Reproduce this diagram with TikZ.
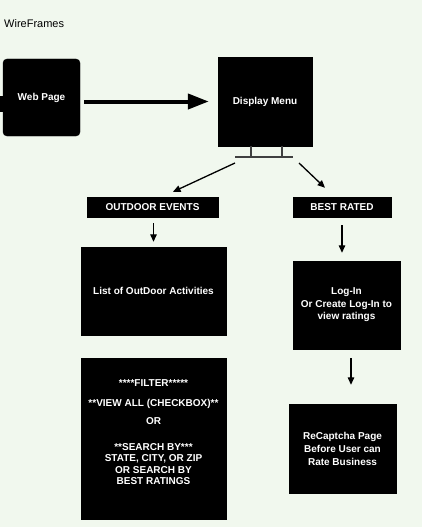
\documentclass[tikz,border=0pt]{standalone}
\usepackage{fontspec}
\setmainfont{Liberation Sans}
\usetikzlibrary{arrows.meta,calc}
\definecolor{bg}{RGB}{241,248,238}
\begin{document}
\begin{tikzpicture}[x=1pt,y=-1pt,
  box/.style={fill=black, draw=black, text=white, font=\bfseries\fontsize{10}{12.5}\selectfont, align=center, inner sep=0pt},
  arr/.style={line width=1.3pt, -{Triangle[length=7.5pt,width=6.5pt]}},
  bigarr/.style={line width=4pt, -{Triangle[length=21pt,width=15pt]}},
  standline/.style={line width=1.1pt, draw=black!75}]
\fill[bg] (0,0) rectangle (422,527);
\useasboundingbox (0,0) rectangle (422,527);
\node[anchor=base west, inner sep=0pt, font=\fontsize{11}{13}\selectfont] (title) at (4,28) {WireFrames};
% web page
\fill (0,96) rectangle (4,112);
\node[box, rounded corners=4pt, minimum width=77pt, minimum height=77pt] (web) at (41.5,97.5) {Web Page};
\node[box, minimum width=94pt, minimum height=89pt] (menu) at (265,101.5) {Display Menu};
\draw[bigarr, shorten <=4pt, shorten >=9pt] (web.east |- menu.west) -- (menu.west);
% stand
\draw[standline] (251,146) -- (251,157) (282,146) -- (282,157) (235,157) -- (293,157);
\coordinate (sl) at (235,163);
\coordinate (sr) at (299,163);
% level 2
\node[box, minimum width=131pt, minimum height=20pt] (outdoor) at (152.5,207) {OUTDOOR EVENTS};
\node[box, minimum width=98pt, minimum height=20pt] (best) at (342,207) {BEST RATED};
\draw[arr] (sl) -- ($(outdoor.north)+(20.5,-5)$);
\draw[arr] (sr) -- ($(best.north)+(-17,-9)$);
% level 3
\node[box, minimum width=145pt, minimum height=88pt] (list) at (153.5,291) {List of OutDoor Activities};
\node[box, minimum width=107pt, minimum height=88pt] (login) at (346.5,305) {Log-In\\Or Create Log-In to\\view ratings};
\draw[arr, shorten <=6pt, shorten >=5pt] (outdoor.south -| list.north) -- (list.north);
\draw[arr, shorten <=8pt, shorten >=8pt] (best.south) -- (best.south |- login.north);
% level 4
\node[box, minimum width=145pt, minimum height=161pt] (filter) at (153.5,438.5) {};
\node[box, fill=none, draw=none, font=\bfseries\fontsize{10}{11.3}\selectfont] (filtertext) at (153.5,432) {****FILTER*****\\[8.7pt]**VIEW ALL (CHECKBOX)**\\[6.7pt]OR\\[14.7pt]**SEARCH BY***\\STATE, CITY, OR ZIP\\OR SEARCH BY\\BEST RATINGS};
\node[box, font=\bfseries\fontsize{10}{13}\selectfont, minimum width=107pt, minimum height=89pt] (captcha) at (342.5,448.5) {ReCaptcha Page\\Before User can\\Rate Business};
\draw[arr, shorten <=9pt, shorten >=19pt] ([xshift=4.5pt]login.south) -- ([xshift=4.5pt]login.south |- captcha.north);
\end{tikzpicture}
\end{document}
